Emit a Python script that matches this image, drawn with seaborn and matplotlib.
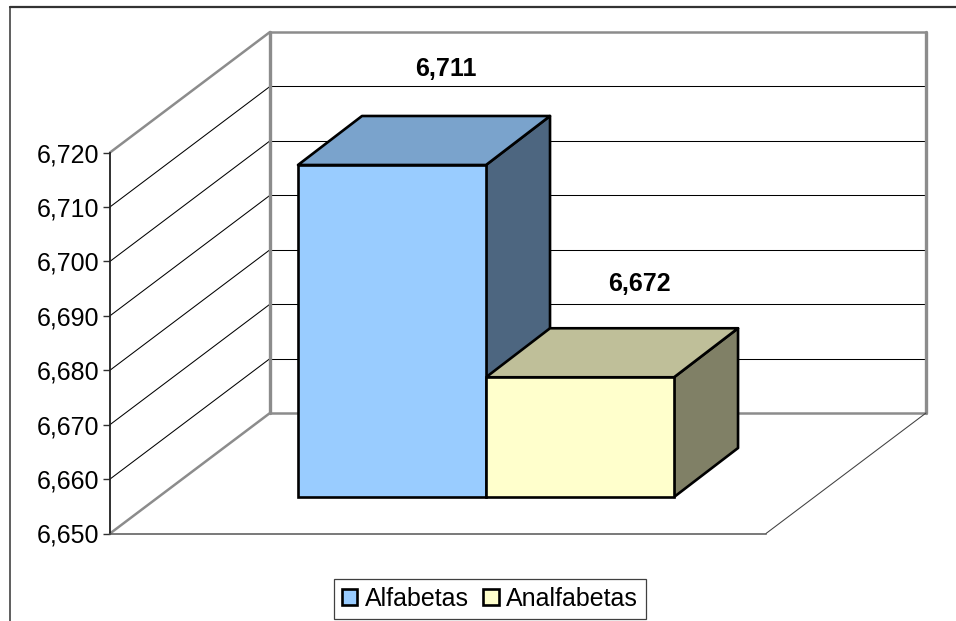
import matplotlib
matplotlib.use('Agg')
import matplotlib.pyplot as plt
import numpy as np
import seaborn as sns
from matplotlib.lines import Line2D
from matplotlib.patches import Patch, Polygon
from matplotlib.transforms import Affine2D, IdentityTransform

# Data
categories = ['Alfabetas', 'Analfabetas']
values = [6711, 6672]
tick_values = [6650, 6660, 6670, 6680, 6690, 6700, 6710, 6720]

front_colors = ['#99CCFF', '#FFFFCC']
top_colors = ['#7AA3CC', '#BFBF99']
side_colors = ['#4D6680', '#808066']

W, H = 956, 621
sns.set_style('white')
plt.rcParams['font.family'] = ['Liberation Sans', 'DejaVu Sans']
plt.rcParams['text.color'] = 'black'

fig = plt.figure(figsize=(W / 100, H / 100), dpi=100)
ax = fig.add_axes([110 / W, (H - 533.5) / H, 656 / W, 381 / H])

# Draw front faces with seaborn
sns.barplot(x=categories, y=values, hue=categories, palette=front_colors,
            saturation=1, width=1, dodge=False, legend=False, edgecolor='black',
            linewidth=1.9, ax=ax, zorder=5)
ax.set_xlim(-1.243, 2.246)
ax.set_ylim(tick_values[0], tick_values[-1])
ax.set_yticks(tick_values)
ax.set_yticklabels([f'{t:,}' for t in tick_values], fontsize=18, color='black')
ax.tick_params(axis='y', left=True, length=5, width=1, color='#303030', pad=3)
ax.set_xticks([])
ax.set_xlabel('')
ax.patch.set_alpha(0)
sns.despine(ax=ax)
ax.spines['left'].set(color='#202020', linewidth=1.3)
ax.spines['bottom'].set(color='#555555', linewidth=1.1)

# Depth of the 3d box, in pixels
wall_dx, wall_dy = 160, 120.5
bar_dx, bar_dy = 48.3, 36.5
box_dx, box_dy = 64, 49


def project(x, v, dx=0, dy=0):
    px, py = ax.transData.transform((x, v))
    return px + dx, py + dy


def face(points, color, zorder=6, lw=1.9, edge='black'):
    ax.add_patch(Polygon(points, closed=True, facecolor=color, edgecolor=edge,
                         linewidth=lw, transform=IdentityTransform(),
                         clip_on=False, zorder=zorder, joinstyle='round'))


def wall_line(points, color, lw):
    xs, ys = zip(*points)
    ax.add_line(Line2D(xs, ys, color=color, linewidth=lw,
                       transform=IdentityTransform(), clip_on=False, zorder=2))


x_left, x_right = ax.get_xlim()
grey = '#8C8C8C'

# Walls, gridlines and floor
for t in tick_values:
    is_edge = t in (tick_values[0], tick_values[-1])
    color = grey if is_edge else 'black'
    lw = 1.8 if is_edge else 0.75
    start = project(x_left, t)
    back = project(x_left, t, wall_dx, wall_dy)
    end = project(x_right, t, wall_dx, wall_dy)
    wall_line([start, back], color, lw)
    wall_line([back, end], color, lw)
wall_line([project(x_left, tick_values[0], wall_dx, wall_dy),
           project(x_left, tick_values[-1], wall_dx, wall_dy)], grey, 2.4)
wall_line([project(x_right, tick_values[0], wall_dx, wall_dy),
           project(x_right, tick_values[-1], wall_dx, wall_dy)], grey, 2.4)
wall_line([project(x_right, tick_values[0]),
           project(x_right, tick_values[0], wall_dx, wall_dy)], '#404040', 0.75)

# Shift the seaborn bars back on the floor and add the box faces
shift = Affine2D().translate(bar_dx, bar_dy)
base = tick_values[0]
for i, (bar, v) in enumerate(zip(ax.patches[:len(values)], values)):
    bar.set_y(base)
    bar.set_height(v - base)
    bar.set_transform(ax.transData + shift)
    bar.set_clip_on(False)
    x0, x1 = bar.get_x(), bar.get_x() + bar.get_width()
    fx, fy = bar_dx, bar_dy
    bx, by = bar_dx + box_dx, bar_dy + box_dy
    face([project(x1, base, fx, fy), project(x1, v, fx, fy),
          project(x1, v, bx, by), project(x1, base, bx, by)], side_colors[i], zorder=4)
    face([project(x0, v, fx, fy), project(x1, v, fx, fy),
          project(x1, v, bx, by), project(x0, v, bx, by)], top_colors[i], zorder=4)

# Data labels
label_offsets = [(54, 96), (59.5, 93)]
for i, v in enumerate(values):
    px, py = project(i, v, bar_dx + label_offsets[i][0], bar_dy + label_offsets[i][1])
    ax.text(px, py, f'{v:,}', transform=IdentityTransform(), ha='center', va='center',
            fontsize=18, fontweight='bold', color='black', zorder=8, clip_on=False)

# Legend
handles = [Patch(facecolor=c, edgecolor='black', linewidth=1.9) for c in front_colors]
leg = fig.legend(handles, categories, ncol=2, fontsize=18, loc='center',
                 bbox_to_anchor=(490 / W, (H - 599) / H),
                 handlelength=0.62, handleheight=0.62, handletextpad=0.3,
                 columnspacing=0.58, borderpad=0.33, borderaxespad=0,
                 fancybox=False, framealpha=1, edgecolor='#404040',
                 labelcolor='black')
leg.get_frame().set_linewidth(0.9)

# Chart area border, only top and left fall inside the picture
fig.add_artist(Line2D([10 / W, 10 / W], [0, (H - 7) / H], color='#333333', linewidth=1.1))
fig.add_artist(Line2D([10 / W, 1], [(H - 7) / H, (H - 7) / H], color='#333333', linewidth=1.6))

fig.savefig('out.png', dpi=100, facecolor='white')
